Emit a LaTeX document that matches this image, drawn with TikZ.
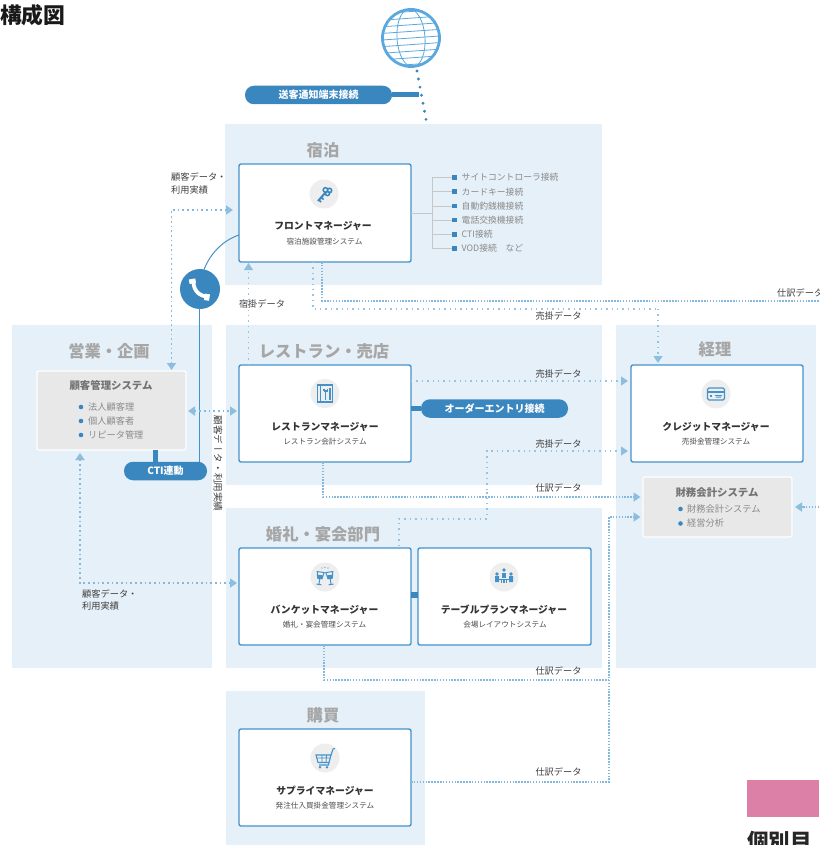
\documentclass[tikz,border=0pt]{standalone}
\usepackage{fontspec}
\setmainfont{Noto Sans CJK JP}
\newfontfamily\vjp[Vertical=RotatedGlyphs]{Noto Sans CJK JP}
\usetikzlibrary{arrows.meta}
\definecolor{panelc}{HTML}{E6F0F8}
\definecolor{bluec}{HTML}{3A87C0}
\definecolor{edgec}{HTML}{4592CB}
\definecolor{dotc}{HTML}{84B8DD}
\definecolor{tipc}{HTML}{8CBEE0}
\definecolor{grayt}{HTML}{A6A6A6}
\definecolor{listt}{HTML}{8A8A8A}
\definecolor{grayb}{HTML}{E8E8E8}
\definecolor{iconb}{HTML}{EEEEEE}
\definecolor{pinkc}{HTML}{DC80A8}
\definecolor{globec}{HTML}{5AA8DE}
\newcommand{\fsz}[1]{\fontsize{#1}{#1}\selectfont}
\tikzset{
  panel/.style={fill=panelc,draw=none,inner sep=0,outer sep=0},
  sysbox/.style={draw=edgec,line width=1.4pt,fill=white,rounded corners=2pt,inner sep=0,outer sep=0},
  graybox/.style={draw=white,line width=1.2pt,fill=grayb,rounded corners=2pt,inner sep=0,outer sep=0},
  sect/.style={text=grayt,font=\bfseries\fsz{16.3},inner sep=0},
  boxtitle/.style={text=black!80,font=\bfseries\fsz{9.8},inner sep=0},
  boxsub/.style={text=black!70,font=\fsz{7.6},inner sep=0},
  graytitle/.style={text=black!55,font=\bfseries\fsz{10.4},inner sep=0},
  graylist/.style={text=listt,font=\fsz{9.2},inner sep=0,anchor=west},
  note/.style={text=black!75,font=\fsz{9.2},inner sep=0},
  listtext/.style={text=listt,font=\fsz{8.8},inner sep=0,anchor=west},
  pill/.style={fill=bluec,text=white,font=\bfseries\fsz{10},rounded corners=9pt,inner sep=0,outer sep=0,minimum height=18.5pt},
  link/.style={bluec,line width=5pt},
  dense/.style={dotc,line width=2pt,dash pattern=on 1.5pt off 1.4pt},
  sparse/.style={dotc!85!white,line width=1.2pt,dash pattern=on 1.4pt off 4pt},
  medium/.style={dotc,line width=1.9pt,dash pattern=on 1.7pt off 3pt},
  tip/.style={-{Triangle[length=7pt,width=9pt,color=tipc]}},
  tips/.style={{Triangle[length=7pt,width=9pt,color=tipc]}-{Triangle[length=7pt,width=9pt,color=tipc]}},
  iconbg/.style={circle,fill=iconb,draw=none,minimum size=29pt,inner sep=0},
  sq/.style={fill=bluec,draw=none,minimum size=4.6pt,inner sep=0},
  bul/.style={circle,fill=bluec,draw=none,minimum size=4.6pt,inner sep=0},
  ico/.style={edgec,line width=1pt},
  keypic/.pic={
    \draw[bluec,line width=2pt] (-6,7)--(2,-2);
    \draw[bluec,line width=1.6pt] (-5.5,5.5)--(-3,8) (-3,3)--(-.5,5.5);
    \draw[bluec,line width=1.5pt] (1.5,-4) circle (2.3) (5.5,-3.5) circle (2.2) (3.5,-.5) circle (2.1);
  },
  forkpic/.pic={
    \draw[ico,line width=1.1pt] (-7.5,-8.5) rectangle (7.5,8.5);
    \draw[ico,line width=1pt] (-5,-8.5)--(-5,8.5);
    \draw[ico,line width=1.2pt] (-1,-5) -- (-1,-2.5) (2.5,-5)--(2.5,-2.5) (-1,-2.5) -- (2.5,-2.5) (0.7,-2.5)--(0.7,6);
    \draw[ico,line width=1.4pt] (5,-5.5)--(5,6);
  },
  glasspic/.pic={
    \foreach \s/\a in {-1/-8,1/8}{
      \begin{scope}[shift={(\s*5,0)},rotate=\a]
      \draw[ico,line width=1pt] (-3.5,-5) -- (3.5,-5) -- (2.2,1.5) -- (-2.2,1.5) -- cycle;
      \fill[edgec] (-3,-2) -- (3,-2) -- (2.2,1.5) -- (-2.2,1.5) -- cycle;
      \draw[ico,line width=1pt] (0,1.5)--(0,7) (-2.5,7.5)--(2.5,7.5);
      \end{scope}}
    \fill[edgec] (-3,-9) circle (.6) (0,-9.5) circle (.6) (3,-9) circle (.6);
  },
  tablepic/.pic={
    \fill[edgec] (0,-7) circle (1.9) (-7,-3) circle (1.9) (7,-3) circle (1.9);
    \fill[edgec] (-1.8,-4.5) rectangle (1.8,1);
    \fill[edgec] (-9,-.8) rectangle (-5,5) (5,-.8) rectangle (9,5);
    \draw[white,line width=.8pt] (-5,2) -- (5,2);
    \draw[ico,line width=1.3pt] (-5,2.2) -- (5,2.2) (-2.6,2.2)--(-2.6,6) (2.6,2.2)--(2.6,6) (0,2.2)--(0,6);
  },
  cartpic/.pic={
    \draw[ico,line width=1.1pt] (-9,-3) -- (6,-3) -- (4,4.5) -- (-7,4.5) -- cycle;
    \draw[ico,line width=.8pt] (-8,0) -- (5,0) (-3,-3) -- (-3,4.5) (1.5,-3) -- (1,4.5);
    \draw[ico,line width=1.1pt] (4,4.5) -- (3.5,7) -- (-6,7) (6,-3) -- (8,-9) -- (10,-9.5);
    \fill[edgec] (-5,9.2) circle (1.3) (2,9.2) circle (1.3);
  },
  cardpic/.pic={
    \draw[ico,line width=1.3pt,rounded corners=1.5pt] (-8.5,-6) rectangle (8.5,6);
    \fill[edgec] (-8.5,-3.3) rectangle (8.5,-1.5);
    \fill[edgec] (-6,1.2) rectangle (-3.8,3.2);
    \fill[edgec] (-1,1) rectangle (6,2) (0,2.8) rectangle (5,3.6);
  },
  phonepic/.pic={
    \draw[white,line width=3.8pt] (-6.5,-7) .. controls (-6.5,2) and (0,7.5) .. (8,7.5);
    \draw[white,line width=6.5pt] (-8,-10) -- (-7.2,-5.5) (4.5,7.8) -- (9.5,8.6);
  }
}
\begin{document}
\begin{tikzpicture}[x=1pt,y=-1pt]
\useasboundingbox (0,0) rectangle (819,845);
% panels
\node[panel,minimum width=377pt,minimum height=161pt] (pstay) at (413.5,204.5) {};
\node[panel,minimum width=200pt,minimum height=343pt] (psales) at (112,496.5) {};
\node[panel,minimum width=376pt,minimum height=160pt] (prest) at (414,405) {};
\node[panel,minimum width=376pt,minimum height=160pt] (pwed) at (414,588) {};
\node[panel,minimum width=200pt,minimum height=343pt] (pacct) at (716,496.5) {};
\node[panel,minimum width=199pt,minimum height=154pt] (pbuy) at (325.5,768) {};
% headings
\node[inner sep=0,anchor=west,text=black!90,font=\bfseries\fsz{21.8}] (ttl) at (0,15) {構成図};
\node[sect] (s1) at (323,150) {宿泊};
\node[sect] (s2) at (109,351) {営業・企画};
\node[sect] (s3) at (324,351) {レストラン・売店};
\node[sect] (s4) at (715,349) {経理};
\node[sect] (s5) at (323,534) {婚礼・宴会部門};
\node[sect] (s6) at (323,715) {購買};
% boxes
\node[sysbox,minimum width=172pt,minimum height=98pt] (front) at (325,213) {};
\node[sysbox,minimum width=172pt,minimum height=97pt] (rest) at (325,413.5) {};
\node[sysbox,minimum width=172pt,minimum height=97pt] (banq) at (325,596.5) {};
\node[sysbox,minimum width=173pt,minimum height=97pt] (table) at (504.5,596.5) {};
\node[sysbox,minimum width=172pt,minimum height=97pt] (supply) at (325,777.5) {};
\node[sysbox,minimum width=172pt,minimum height=97pt] (credit) at (717,413.5) {};
\node[graybox,minimum width=149pt,minimum height=60pt] (fin) at (717.5,507) {};
\node[graybox,minimum width=149pt,minimum height=79pt] (crm) at (111.5,410.5) {};
% icons
\node[iconbg] (ic1) at (324,194) {}; \pic at (ic1) {keypic};
\node[iconbg] (ic2) at (325,393.5) {}; \pic at (ic2) {forkpic};
\node[iconbg] (ic3) at (325,577) {}; \pic at (ic3) {glasspic};
\node[iconbg] (ic4) at (504,577) {}; \pic at (ic4) {tablepic};
\node[iconbg] (ic5) at (325,758) {}; \pic at (ic5) {cartpic};
\node[iconbg] (ic6) at (716,394) {}; \pic at (ic6) {cardpic};
% box texts
\node[boxtitle] (t1) at (323,226) {フロントマネージャー};
\node[boxsub] (u1) at (324.5,241.5) {宿泊施設管理システム};
\node[boxtitle] (t2) at (325,427) {レストランマネージャー};
\node[boxsub] (u2) at (325,442) {レストラン会計システム};
\node[boxtitle] (t3) at (324.5,610) {バンケットマネージャー};
\node[boxsub] (u3) at (324.5,625) {婚礼・宴会管理システム};
\node[boxtitle] (t4) at (504,610) {テーブルプランマネージャー};
\node[boxsub] (u4) at (505,625) {会場レイアウトシステム};
\node[boxtitle] (t5) at (325,791) {サプライマネージャー};
\node[boxsub] (u5) at (325,806) {発注仕入買掛金管理システム};
\node[boxtitle] (t6) at (716,427) {クレジットマネージャー};
\node[boxsub] (u6) at (716,442) {売掛金管理システム};
% crm
\node[graytitle] (crmt) at (111,386) {顧客管理システム};
\node[bul] at (81,407) {}; \node[graylist] (c1) at (88,407) {法人顧客理};
\node[bul] at (81,421) {}; \node[graylist] (c2) at (88,421) {個人顧客者};
\node[bul] at (81,435) {}; \node[graylist] (c3) at (88,435) {リピータ管理};
% finance
\node[graytitle] (fint) at (717,493) {財務会計システム};
\node[bul] at (680.5,509) {}; \node[graylist] (f1) at (687,509) {財務会計システム};
\node[bul] at (680.5,523.5) {}; \node[graylist] (f2) at (687,523.5) {経営分析};
% list of connections
\coordinate (lj) at (432,213);
\draw[black!22,line width=.8pt] (front.east |- lj) -- (lj);
\draw[black!22,line width=.8pt] (432,177.5) -- (452,177.5) (432,248.5) -- (452,248.5) (432,177.5) -- (432,248.5)
  (432,191.7) -- (452,191.7) (432,206) -- (452,206) (432,220) -- (452,220) (432,234.3) -- (452,234.3);
\foreach \yy/\tx in {177.5/サイトコントローラ接続,191.7/カードキー接続,206/自動釣銭機接続,220/電話交換機接続,234.3/CTI接続,248.5/VOD接続　など}{
  \node[sq] at (454.5,\yy) {};
  \node[listtext] at (461.5,\yy) {\tx};
}
% globe
\node[circle,draw=none,minimum size=58pt,inner sep=0] (globe) at (411,38) {};
\begin{scope}
\clip (globe) circle (28.5);
\begin{scope}[rotate around={4:(411,38)}]
\foreach \k in {-4,...,4}{\draw[globec,line width=.8pt] (375,38+\k*6.6) -- (447,38+\k*6.6);}
\end{scope}
\draw[globec,line width=.8pt,rotate around={4:(411,38)}] (411,38) ellipse (14 and 29);
\end{scope}
\draw[globec,line width=2.8pt] (globe) circle (28.5);
\coordinate (gend) at (426.5,122);
\draw[bluec,line width=3.2pt,line cap=round,dash pattern=on 0pt off 8.2pt] (417,71) -- (gend);
% pills
\node[pill,minimum width=147pt] (p1) at (318.5,95) {送客通知端末接続};
\coordinate (p1e) at (419,95);
\draw[link] (p1.east) -- (p1e);
\node[pill,minimum width=147pt] (p2) at (494.5,408.5) {オーダーエントリ接続};
\draw[link] (rest.east |- p2) -- (p2.west);
\node[pill,minimum width=83pt] (p3) at (165.5,471) {CTI連動};
\draw[link] (155.5,450) -- (155.5,462);
\draw[link,line width=6pt] (banq.east |- 0,595) -- (table.west |- 0,595);
% phone
\node[circle,fill=bluec,minimum size=40pt,inner sep=0] (tel) at (200,289) {};
\pic at (tel) {phonepic};
\draw[edgec,line width=1pt] (199,308) -- (199,462);
\draw[edgec,line width=1pt] (204,269.5) .. controls (211,252) and (224,240) .. (front.west |- 0,235);
% data flows
\draw[medium,tips] (233,210) -- (171.5,210) -- (171.5,370);
\draw[sparse,tip] (248.5,365) -- (248.5,263);
\draw[sparse] (313,262) -- (313,309) -- (658,309);
\draw[sparse,tip] (658,309) -- (658,363);
\draw[dense] (322,262) -- (322,300.5) -- (819,300.5);
\draw[sparse,tip] (rest.east |- 0,381) -- (628,381);
\draw[medium,tips] (188,411) -- (237,411);
\draw[dense,tip] (323,462) -- (323,497) -- (640.5,497);
\draw[sparse] (399,546) -- (399,519) -- (487,519) -- (487,490);
\draw[sparse,tip] (487,490) -- (487,451) -- (628,451);
\draw[dense] (324,645) -- (324,680) -- (609,680);
\draw[dense,tip] (411,782) -- (609,782) -- (609,517) -- (640.5,517);
\draw[dense,tip] (819,507) -- (795,507);
\draw[medium,tips] (80,453) -- (80,583) -- (237,583);
% labels
\node[note,align=left,anchor=north west] (n1) at (171,172.5) {顧客データ・\\[3.4pt]利用実績};
\node[note,align=left,anchor=north west] (n2) at (82,589) {顧客データ・\\[3.4pt]利用実績};
\node[note] (n3) at (262,304) {宿掛データ};
\node[note] (n4) at (558.5,316) {売掛データ};
\node[note,anchor=west] (n5) at (777,293) {仕訳データ};
\node[note] (n6) at (558.5,374) {売掛データ};
\node[note] (n7) at (558.5,443.5) {売掛データ};
\node[note] (n8) at (558.5,488) {仕訳データ};
\node[note] (n9) at (558.5,671) {仕訳データ};
\node[note] (n10) at (558.5,772) {仕訳データ};
\node[note,rotate=-90,font=\vjp\fsz{9.6}] (n11) at (218,463.5) {顧客データ・利用実績};
% pink
\node[fill=pinkc,inner sep=0,minimum width=72pt,minimum height=37pt,anchor=north west] (pk) at (747,780) {};
\node[inner sep=0,anchor=west,text=black!85,font=\bfseries\fsz{21.5}] (kb) at (747,841) {個別目};
\end{tikzpicture}
\end{document}
